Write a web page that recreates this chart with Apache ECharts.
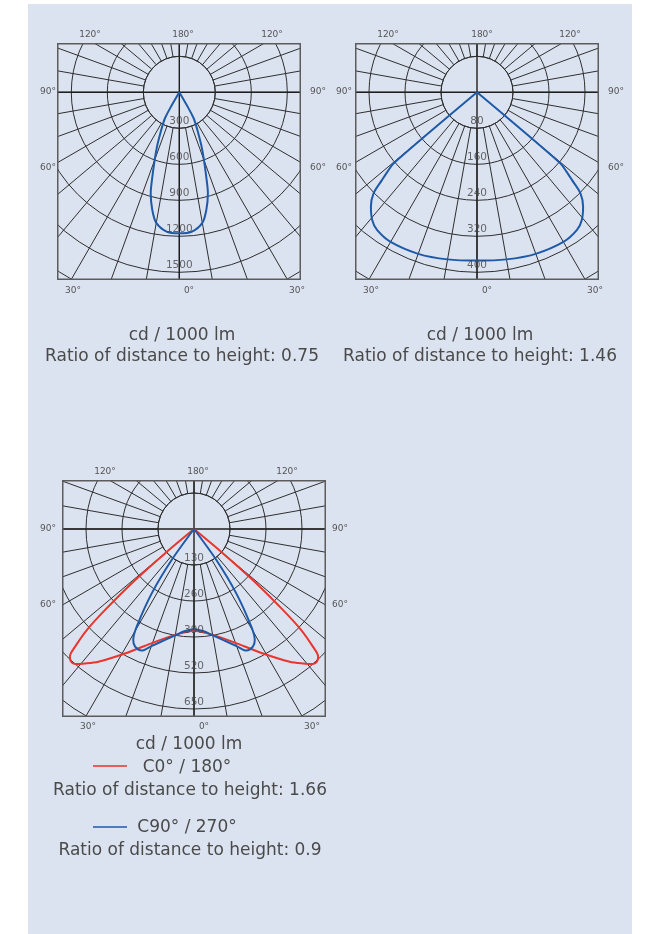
<!DOCTYPE html>
<html><head><meta charset="utf-8">
<script src="https://cdn.jsdelivr.net/npm/echarts@6/dist/echarts.min.js"></script>
<style>
html,body{margin:0;padding:0;background:#fff;width:649px;height:934px;overflow:hidden}
#bg{position:absolute;left:0;top:0;width:649px;height:934px}
.dia{position:absolute;overflow:hidden}
</style></head><body>
<div id="bg"></div>
<div id="d1" class="dia" style="left:57px;top:43px;width:244px;height:237px"></div>
<div id="d2" class="dia" style="left:355px;top:43px;width:244px;height:237px"></div>
<div id="d3" class="dia" style="left:62px;top:480px;width:264px;height:237px"></div>
<script>
// ---- data (gamma = angle from nadir, degrees; values in cd / 1000 lm) ----
const D1_GAMMA = [0, 5, 10, 13, 15.8, 17, 20, 22.5, 25, 27.5, 29, 30, 31];
const D1_CD    = [1175, 1167, 1105, 1003, 875, 790, 600, 480, 370, 290, 245, 150, 0];
const D1_RINGS = [300, 600, 900, 1200, 1500];

const D2_GAMMA = [0, 10, 20, 30, 36, 39.4, 42.8, 45.7, 47.3, 48.5, 49.6, 50.2];
const D2_CD    = [374, 377, 382, 384, 378, 367, 347, 321, 287, 265, 243, 0];
const D2_RINGS = [80, 160, 240, 320, 400];

const D3_C0_GAMMA = [0, 8.5, 19, 29, 35.8, 39, 41.4, 42.8, 44.2, 45.3, 46.7, 47.7, 49, 50, 51];
const D3_C0_CD    = [367, 383, 431, 514, 591, 625, 650, 653, 643, 604, 532, 434, 290, 137, 0];
const D3_C90_GAMMA = [0, 5, 10, 14.6, 20, 23.3, 26.6, 28.7, 30.4, 33.3, 35.8, 37];
const D3_C90_CD    = [362, 370, 390, 414, 450, 478, 475, 457, 409, 278, 138, 0];
const D3_RINGS = [130, 260, 390, 520, 650];

const CAPTION_UNIT = 'cd / 1000 lm';
const RATIO_1 = 'Ratio of distance to height: 0.75';
const RATIO_2 = 'Ratio of distance to height: 1.46';
const LEGEND_C0 = 'C0° / 180°';
const RATIO_C0 = 'Ratio of distance to height: 1.66';
const LEGEND_C90 = 'C90° / 270°';
const RATIO_C90 = 'Ratio of distance to height: 0.9';

// ---- styles ----
const PANEL = '#dce3f0';
const GRID = '#2e2e2e';
const AXIS = '#1e1e1e';
const FRAME = '#5c5c5c';
const BLUE = '#1f5aa8';
const RED = '#e8352d';
const TXT = '#4a4a4a';
const FONT = '"DejaVu Sans", sans-serif';
const RING_PX = 36;

function loop(gamma, cd) {
  const pts = [];
  for (let i = gamma.length - 1; i >= 0; i--) pts.push([cd[i], gamma[i]]);
  for (let i = 1; i < gamma.length; i++) pts.push([cd[i], 360 - gamma[i]]);
  return pts;
}

function diagramOption(d) {
  const nR = 7;
  const R = RING_PX * nR;
  const step = d.rings[0];
  const maxV = step * nR;
  const series = d.curves.map(c => ({
    type: 'line', coordinateSystem: 'polar', polarIndex: 1,
    data: loop(c.gamma, c.cd), symbol: 'none', smooth: 0.3,
    lineStyle: { color: c.color, width: 2 }, z: 5, silent: true
  }));
  series.push({
    type: 'scatter', coordinateSystem: 'polar', polarIndex: 1,
    data: d.rings.map(v => [v, 0]), symbolSize: 1,
    itemStyle: { color: 'rgba(0,0,0,0)' },
    label: { show: true, position: 'top', distance: 1, formatter: p => String(p.value[0]),
             color: '#444', fontSize: 10.5, fontFamily: FONT },
    z: 6, silent: true
  });
  const hidden = { axisLine: { show: false }, axisTick: { show: false }, axisLabel: { show: false } };
  return {
    animation: false,
    polar: [
      { center: [d.ox, d.oy], radius: [RING_PX, R] },
      { center: [d.ox, d.oy], radius: [0, R] }
    ],
    angleAxis: [
      Object.assign({}, hidden, { polarIndex: 0, type: 'value', min: 0, max: 360, interval: 10,
        startAngle: 270, clockwise: true,
        axisLine: { show: true, lineStyle: { color: GRID, width: 1 } },
        splitLine: { show: true, lineStyle: { color: GRID, width: 1 } } }),
      Object.assign({}, hidden, { polarIndex: 1, type: 'value', min: 0, max: 360, interval: 90,
        startAngle: 270, clockwise: true,
        splitLine: { show: true, lineStyle: { color: AXIS, width: 1.4 } } })
    ],
    radiusAxis: [
      Object.assign({}, hidden, { polarIndex: 0, type: 'value', min: step, max: maxV, interval: step,
        splitLine: { show: true, lineStyle: { color: GRID, width: 1 } } }),
      Object.assign({}, hidden, { polarIndex: 1, type: 'value', min: 0, max: maxV, interval: step,
        splitLine: { show: false } })
    ],
    graphic: [{ type: 'rect', z: 100, silent: true,
      shape: { x: 0.75, y: 0.75, width: d.w - 1.5, height: d.h - 1.5 },
      style: { fill: null, stroke: FRAME, lineWidth: 1.5 } }],
    series
  };
}

const DIAGRAMS = [
  { id: 'd1', w: 244, h: 237, ox: 122.3, oy: 49.3, rings: D1_RINGS,
    curves: [{ gamma: D1_GAMMA, cd: D1_CD, color: BLUE }] },
  { id: 'd2', w: 244, h: 237, ox: 122, oy: 49.3, rings: D2_RINGS,
    curves: [{ gamma: D2_GAMMA, cd: D2_CD, color: BLUE }] },
  { id: 'd3', w: 264, h: 237, ox: 132, oy: 49, rings: D3_RINGS,
    curves: [{ gamma: D3_C0_GAMMA, cd: D3_C0_CD, color: RED },
             { gamma: D3_C90_GAMMA, cd: D3_C90_CD, color: BLUE }] }
];
DIAGRAMS.forEach(d => {
  const c = echarts.init(document.getElementById(d.id), null, { renderer: 'canvas' });
  c.setOption(diagramOption(d));
});

// ---- page texts ----
function txt(text, x, y, size, align, color) {
  return { type: 'text', x: x, y: y, silent: true, z: 10,
    style: { text: text, fill: color || TXT, font: size + 'px ' + FONT,
             align: align || 'center', textAlign: align || 'center',
             verticalAlign: 'middle', textVerticalAlign: 'middle' } };
}
const DEG = '#555';
const DS = 9;
const CS = 17;
const g = [{ type: 'rect', shape: { x: 28, y: 4, width: 604, height: 930 }, style: { fill: PANEL }, z: 0 }];
// diagram 1 degree labels
g.push(txt('120°', 90, 35, DS, 'center', DEG), txt('180°', 183, 35, DS, 'center', DEG), txt('120°', 272, 35, DS, 'center', DEG));
g.push(txt('90°', 56, 92, DS, 'right', DEG), txt('60°', 56, 168, DS, 'right', DEG));
g.push(txt('90°', 310, 92, DS, 'left', DEG), txt('60°', 310, 168, DS, 'left', DEG));
g.push(txt('30°', 73, 291, DS, 'center', DEG), txt('0°', 189, 291, DS, 'center', DEG), txt('30°', 297, 291, DS, 'center', DEG));
// diagram 2
g.push(txt('120°', 388, 35, DS, 'center', DEG), txt('180°', 482, 35, DS, 'center', DEG), txt('120°', 570, 35, DS, 'center', DEG));
g.push(txt('90°', 352, 92, DS, 'right', DEG), txt('60°', 352, 168, DS, 'right', DEG));
g.push(txt('90°', 608, 92, DS, 'left', DEG), txt('60°', 608, 168, DS, 'left', DEG));
g.push(txt('30°', 371, 291, DS, 'center', DEG), txt('0°', 487, 291, DS, 'center', DEG), txt('30°', 595, 291, DS, 'center', DEG));
// diagram 3
g.push(txt('120°', 105, 472, DS, 'center', DEG), txt('180°', 198, 472, DS, 'center', DEG), txt('120°', 287, 472, DS, 'center', DEG));
g.push(txt('90°', 56, 529, DS, 'right', DEG), txt('60°', 56, 605, DS, 'right', DEG));
g.push(txt('90°', 332, 529, DS, 'left', DEG), txt('60°', 332, 605, DS, 'left', DEG));
g.push(txt('30°', 88, 727, DS, 'center', DEG), txt('0°', 204, 727, DS, 'center', DEG), txt('30°', 312, 727, DS, 'center', DEG));
// captions
g.push(txt(CAPTION_UNIT, 182, 336, CS), txt(RATIO_1, 182, 357, CS));
g.push(txt(CAPTION_UNIT, 480, 336, CS), txt(RATIO_2, 480, 357, CS));
g.push(txt(CAPTION_UNIT, 189, 745, CS));
g.push({ type: 'line', shape: { x1: 93, y1: 766, x2: 127, y2: 766 }, style: { stroke: RED, lineWidth: 1.6 }, z: 10 });
g.push(txt(LEGEND_C0, 187, 768, CS), txt(RATIO_C0, 190, 791, CS));
g.push({ type: 'line', shape: { x1: 93, y1: 827, x2: 127, y2: 827 }, style: { stroke: BLUE, lineWidth: 1.6 }, z: 10 });
g.push(txt(LEGEND_C90, 187, 828, CS), txt(RATIO_C90, 190, 851, CS));

const bg = echarts.init(document.getElementById('bg'), null, { renderer: 'canvas' });
bg.setOption({ animation: false, graphic: g });
</script>
</body></html>
